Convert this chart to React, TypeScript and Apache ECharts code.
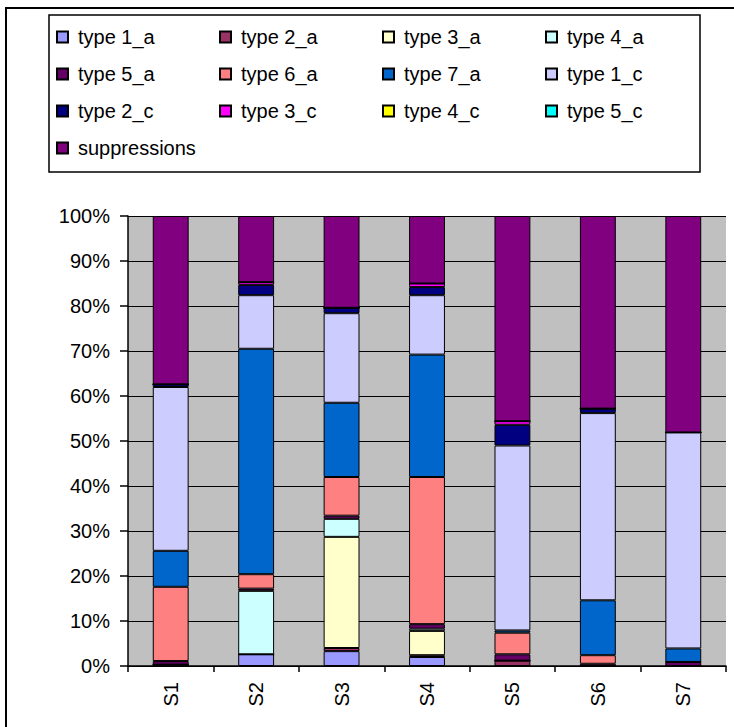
import React, { useEffect, useRef } from "react";
import * as echarts from "echarts";

const categories = ["S1", "S2", "S3", "S4", "S5", "S6", "S7"];
const seriesNames = [
  "type 1_a", "type 2_a", "type 3_a", "type 4_a", "type 5_a", "type 6_a", "type 7_a",
  "type 1_c", "type 2_c", "type 3_c", "type 4_c", "type 5_c", "suppressions",
];
const colors = [
  "#9999FF", "#993366", "#FFFFCC", "#CCFFFF", "#660066", "#FF8080", "#0066CC",
  "#CCCCFF", "#000080", "#FF00FF", "#FFFF00", "#00FFFF", "#800080",
];
// percentages per category S1..S7
const type1a = [0, 2.6, 3.3, 2.0, 0, 0, 0];
const type2a = [0.3, 0, 0.7, 0.4, 1.2, 0, 0];
const type3a = [0, 0, 24.7, 5.4, 0, 0, 0];
const type4a = [0, 14.1, 4.0, 0.5, 0, 0, 0];
const type5a = [0.8, 0.5, 0.7, 1.0, 1.4, 0.5, 0.9];
const type6a = [16.5, 3.2, 8.6, 32.7, 4.8, 1.9, 0];
const type7a = [8.0, 50.1, 16.5, 27.2, 0.5, 12.2, 3.0];
const type1c = [36.4, 11.9, 19.9, 13.2, 41.1, 41.6, 48.0];
const type2c = [0.6, 2.3, 1.2, 1.8, 4.6, 1.0, 0];
const type3c = [0, 0.6, 0, 0.8, 0.8, 0, 0];
const type4c = [0, 0, 0, 0, 0, 0, 0];
const type5c = [0, 0, 0, 0, 0, 0, 0];
const suppressions = [37.4, 14.7, 20.4, 15.0, 45.6, 42.8, 48.1];
const yTicks = [0, 10, 20, 30, 40, 50, 60, 70, 80, 90, 100];

const allData = [
  type1a, type2a, type3a, type4a, type5a, type6a, type7a,
  type1c, type2c, type3c, type4c, type5c, suppressions,
];

const FONT = "Liberation Sans, Arial, sans-serif";

export default function App() {
  const ref = useRef<HTMLDivElement>(null);
  useEffect(() => {
    if (!ref.current) return;
    const chart = echarts.init(ref.current, null, { renderer: "svg" });
    chart.setOption({
      animation: false,
      backgroundColor: "#ffffff",
      textStyle: { fontFamily: FONT },
      graphic: [
        {
          type: "rect",
          shape: { x: 6, y: 8, width: 800, height: 800 },
          style: { fill: "none", stroke: "#000", lineWidth: 2 },
          silent: true,
          z: -1,
        },
        {
          type: "rect",
          shape: { x: 49, y: 15, width: 651, height: 157 },
          style: { fill: "none", stroke: "#000", lineWidth: 1.5 },
          silent: true,
        },
      ],
      legend: {
        left: 56,
        top: 24,
        width: 645,
        padding: 0,
        orient: "horizontal",
        itemWidth: 11,
        itemHeight: 11,
        itemGap: 11,
        icon: "rect",
        data: seriesNames,
        textStyle: {
          fontSize: 20,
          color: "#000",
          width: 130,
          lineHeight: 26,
          padding: [0, 0, 0, 5],
          fontFamily: FONT,
        },
      },
      grid: {
        left: 128,
        right: 8,
        top: 216,
        bottom: 61,
        show: true,
        backgroundColor: "#C0C0C0",
        borderWidth: 0,
      },
      xAxis: {
        type: "category",
        data: categories,
        boundaryGap: true,
        axisLine: { lineStyle: { color: "#000", width: 1.5 } },
        axisTick: { show: true, alignWithLabel: false, length: 6, lineStyle: { color: "#000", width: 1.5 } },
        axisLabel: { rotate: 90, fontSize: 20, color: "#000", margin: 16, fontFamily: FONT },
      },
      yAxis: {
        type: "value",
        min: yTicks[0],
        max: yTicks[yTicks.length - 1],
        interval: 10,
        axisLine: { show: true, lineStyle: { color: "#000", width: 1.5 } },
        axisTick: { show: true, length: 8, lineStyle: { color: "#000", width: 1.5 } },
        axisLabel: { formatter: "{value}%", fontSize: 20, color: "#000", margin: 18, fontFamily: FONT },
        splitLine: { show: true, lineStyle: { color: "#000", width: 1.2 } },
      },
      series: seriesNames.map((name, i) => ({
        name,
        type: "bar",
        stack: "total",
        barWidth: "42%",
        data: allData[i],
        itemStyle: { color: colors[i], borderColor: "#000", borderWidth: 1 },
      })),
    });
    return () => chart.dispose();
  }, []);
  return (
    <div
      ref={ref}
      style={{ position: "fixed", left: 0, top: 0, width: 734, height: 727 }}
    />
  );
}
